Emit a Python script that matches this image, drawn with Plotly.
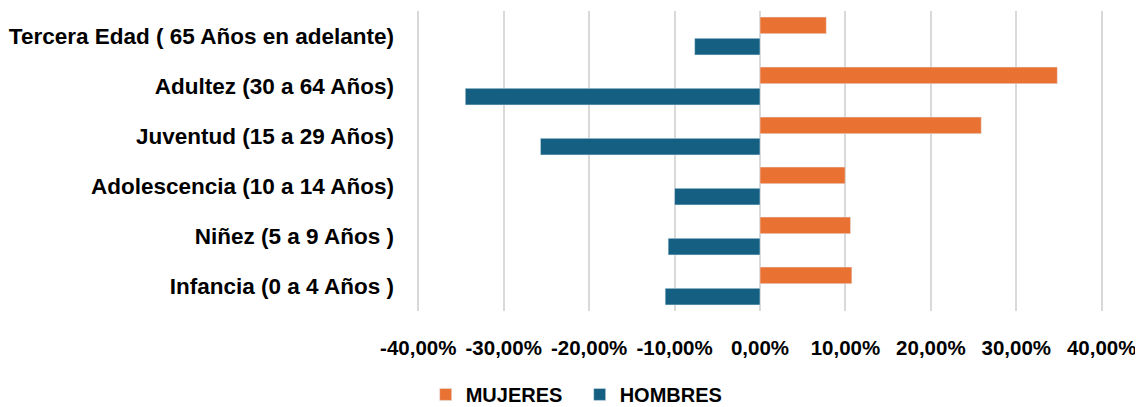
import plotly.graph_objects as go

categories = [
    "Tercera Edad ( 65 Años en adelante)",
    "Adultez (30 a 64 Años)",
    "Juventud (15 a 29 Años)",
    "Adolescencia (10 a 14 Años)",
    "Niñez (5 a 9 Años )",
    "Infancia (0 a 4 Años )",
]
mujeres = [0.0776, 0.348, 0.259, 0.0997, 0.106, 0.1075]
hombres = [-0.0765, -0.345, -0.257, -0.100, -0.1075, -0.111]
tick_vals = [-0.4, -0.3, -0.2, -0.1, 0.0, 0.1, 0.2, 0.3, 0.4]
tick_text = ["-40,00%", "-30,00%", "-20,00%", "-10,00%", "0,00%", "10,00%", "20,00%", "30,00%", "40,00%"]

FONT = "Liberation Sans, Arial, sans-serif"

fig = go.Figure()
fig.add_trace(go.Bar(y=categories, x=mujeres, orientation="h", name="MUJERES",
                     marker=dict(color="#E97132")))
fig.add_trace(go.Bar(y=categories, x=hombres, orientation="h", name="HOMBRES",
                     marker=dict(color="#156082")))

fig.update_layout(
    width=1135, height=399,
    margin=dict(l=409, r=40, t=3, b=96, autoexpand=False),
    paper_bgcolor="white", plot_bgcolor="white",
    barmode="group", bargap=0.15, bargroupgap=0.22,
    font=dict(family=FONT, color="black"),
    legend=dict(orientation="h", xref="container", yref="paper",
                x=0.368, xanchor="left", y=-0.278, yanchor="middle",
                font=dict(family=FONT, size=20, color="#000", weight="bold"),
                itemwidth=30, tracegroupgap=0, entrywidth=109, entrywidthmode="pixels"),
    showlegend=True,
)
fig.update_xaxes(range=[-0.4015, 0.4015], tickvals=tick_vals, ticktext=tick_text,
                 showgrid=True, gridcolor="#d9d9d9", gridwidth=1.5,
                 zeroline=False, showline=False, ticks="", automargin=False,
                 tickfont=dict(family=FONT, size=20.5, color="#000", weight="bold"),
                 ticklabelstandoff=22)
fig.update_yaxes(autorange="reversed", showgrid=False, zeroline=False, ticks="",
                 automargin=False,
                 tickfont=dict(family=FONT, size=22.5, color="#000", weight="bold"),
                 ticklabelstandoff=22)

fig.write_html("out.html")
